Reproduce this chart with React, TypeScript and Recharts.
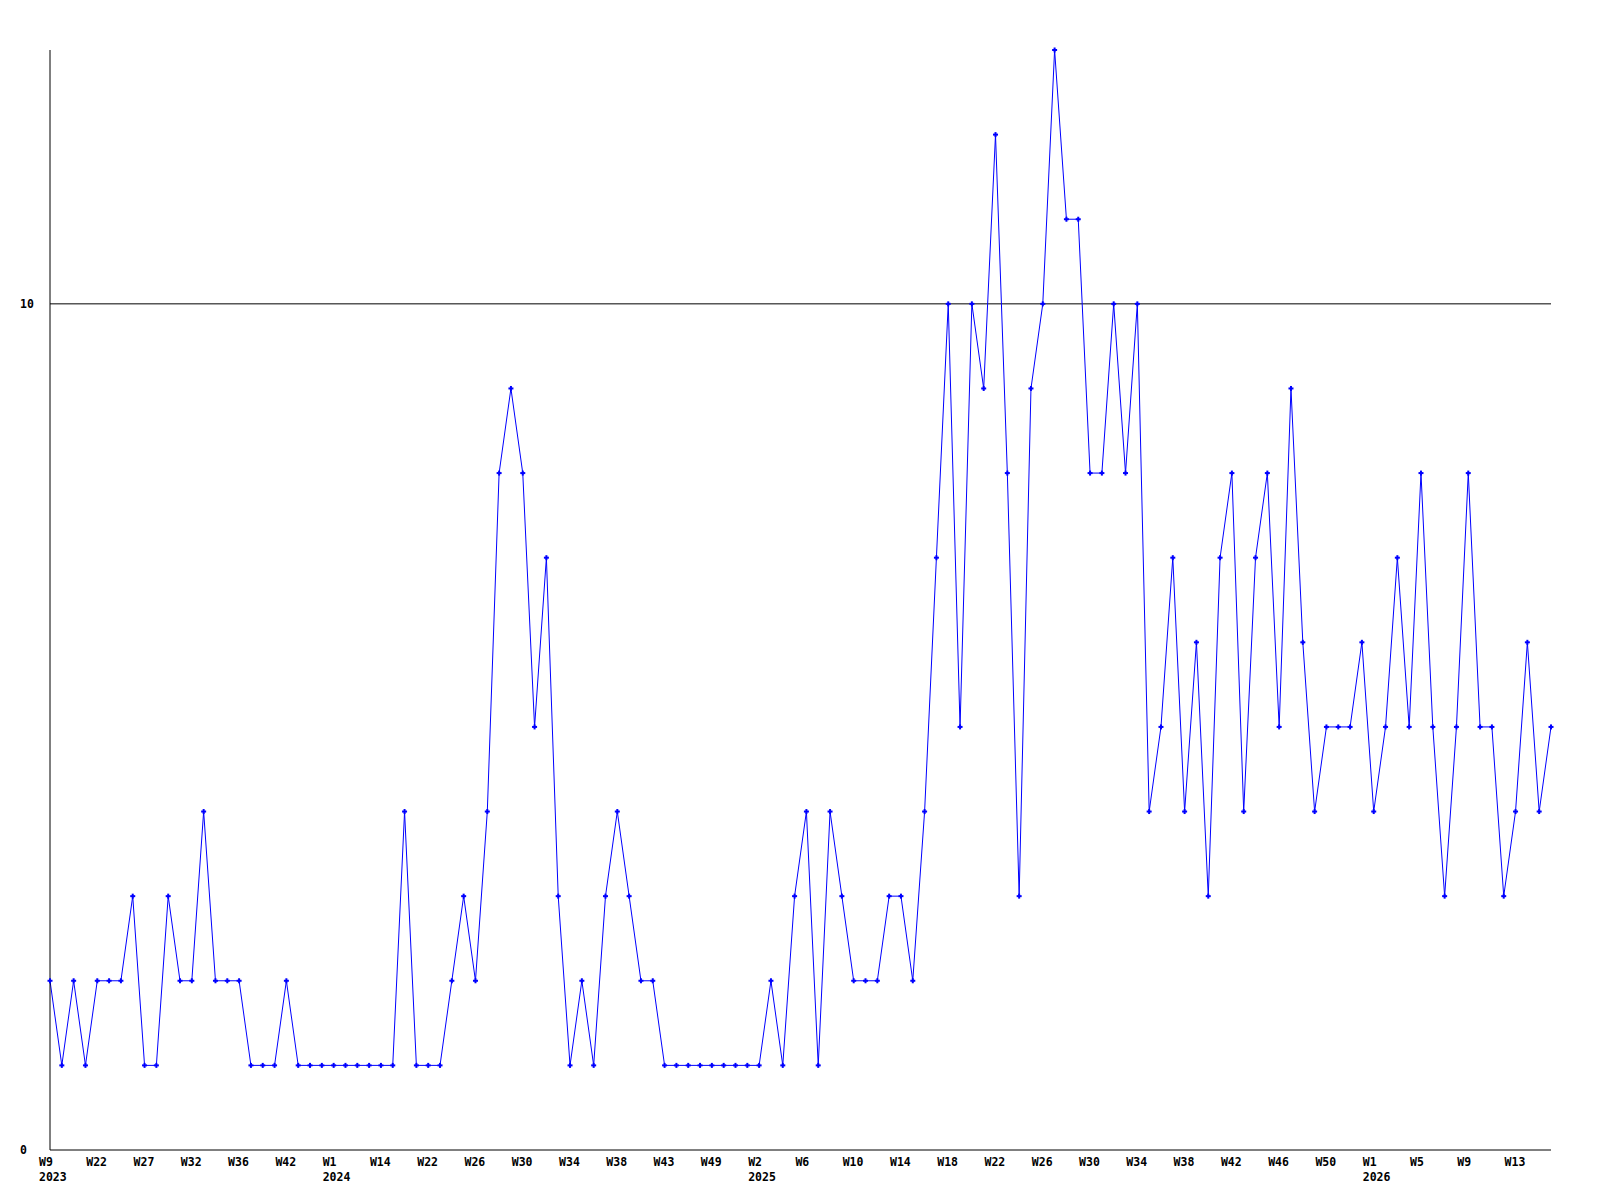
import { LineChart, Line, XAxis, YAxis, ReferenceLine } from 'recharts';

// one value per sample
const counts = [
  2, 1, 2, 1, 2, 2, 2, 3, 1, 1,
  3, 2, 2, 4, 2, 2, 2, 1, 1, 1,
  2, 1, 1, 1, 1, 1, 1, 1, 1, 1,
  4, 1, 1, 1, 2, 3, 2, 4, 8, 9,
  8, 5, 7, 3, 1, 2, 1, 3, 4, 3,
  2, 2, 1, 1, 1, 1, 1, 1, 1, 1,
  1, 2, 1, 3, 4, 1, 4, 3, 2, 2,
  2, 3, 3, 2, 4, 7, 10, 5, 10, 9,
  12, 8, 3, 9, 10, 13, 11, 11, 8, 8,
  10, 8, 10, 4, 5, 7, 4, 6, 3, 7,
  8, 4, 7, 8, 5, 9, 6, 4, 5, 5,
  5, 6, 4, 5, 7, 5, 8, 5, 3, 5,
  8, 5, 5, 3, 4, 6, 4, 5
];

// a label on every 4th sample
const weekLabels = [
  'W9', 'W22', 'W27', 'W32', 'W36', 'W42', 'W1', 'W14', 'W22', 'W26', 'W30',
  'W34', 'W38', 'W43', 'W49', 'W2', 'W6', 'W10', 'W14', 'W18', 'W22', 'W26',
  'W30', 'W34', 'W38', 'W42', 'W46', 'W50', 'W1', 'W5', 'W9', 'W13'
];
const yearAtLabel: Record<number, string> = { 0: '2023', 6: '2024', 15: '2025', 28: '2026' };
const labelStep = 4;

const yTicks = [0, 10];

const data = counts.map((v, i) => ({ i, v }));
const xTicks = weekLabels.map((_, k) => k * labelStep);

const font = { fontFamily: '"DejaVu Sans Mono", monospace', fontSize: 11.5, fontWeight: 'bold' as const };

function WeekTick(props: any) {
  const { x, y, payload } = props;
  const k = Math.round(payload.value / labelStep);
  const year = yearAtLabel[k];
  return (
    <g>
      <text x={x - 11} y={y + 12} textAnchor="start" dominantBaseline="central" fill="#000" {...font}>
        {weekLabels[k]}
      </text>
      {year && (
        <text x={x - 11} y={y + 27} textAnchor="start" dominantBaseline="central" fill="#000" {...font}>
          {year}
        </text>
      )}
    </g>
  );
}

function CountTick(props: any) {
  const { x, y, payload } = props;
  return (
    <text x={x - 30} y={y} textAnchor="start" dominantBaseline="central" fill="#000" {...font}>
      {payload.value}
    </text>
  );
}

function Mark(props: any) {
  const { cx, cy } = props;
  if (cx == null || cy == null) return null;
  return (
    <g fill="#0000ff">
      <rect x={cx - 2.5} y={cy - 1} width={5} height={2} />
      <rect x={cx - 1} y={cy - 2.5} width={2} height={5} />
    </g>
  );
}

export default function App() {
  return (
    <div style={{ position: 'absolute', left: 0, top: 0, width: 1600, height: 1200, background: '#fff' }}>
      <LineChart width={1600} height={1200} data={data} margin={{ top: 50, right: 49, bottom: 0, left: 10 }}>
        <XAxis
          dataKey="i"
          type="number"
          domain={[0, counts.length - 1]}
          ticks={xTicks}
          interval={0}
          height={50}
          tickSize={0}
          tickMargin={0}
          tickLine={false}
          axisLine={{ stroke: '#000', strokeWidth: 1 }}
          tick={<WeekTick />}
        />
        <YAxis
          type="number"
          domain={[0, 13]}
          ticks={yTicks}
          interval={0}
          width={40}
          tickSize={0}
          tickMargin={0}
          tickLine={false}
          axisLine={{ stroke: '#000', strokeWidth: 1 }}
          tick={<CountTick />}
        />
        <ReferenceLine y={10} stroke="#000" strokeWidth={1} />
        <Line
          type="linear"
          dataKey="v"
          stroke="#0000ff"
          strokeWidth={1}
          dot={<Mark />}
          activeDot={false}
          isAnimationActive={false}
        />
      </LineChart>
    </div>
  );
}
